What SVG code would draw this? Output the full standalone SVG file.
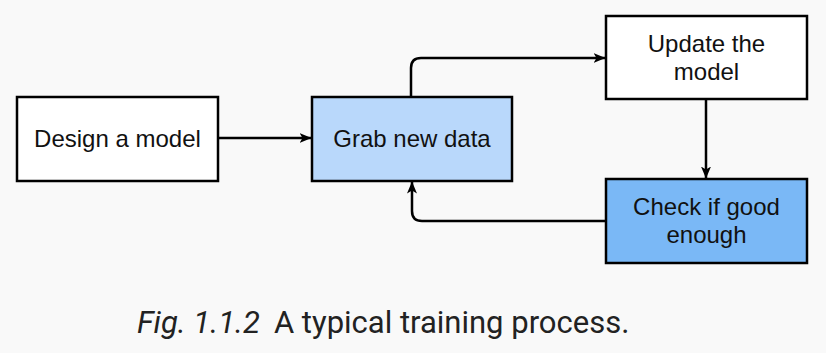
<svg xmlns="http://www.w3.org/2000/svg" width="826" height="353" viewBox="0 0 826 353">
  <style>
    .box { stroke: #000; stroke-width: 2.5; }
    .label { font-family: "Liberation Sans", Arial, sans-serif; font-size: 24px; fill: #111; text-anchor: middle; }
    .edge { fill: none; stroke: #000; stroke-width: 2.5; marker-end: url(#arrow); }
    .caption { font-family: Roboto, "Liberation Sans", sans-serif; font-size: 31px; fill: #222; }
  </style>
  <defs>
    <marker id="arrow" viewBox="0 0 12 10" refX="11.5" refY="5" markerWidth="12" markerHeight="10" markerUnits="userSpaceOnUse" orient="auto">
      <path d="M0,0 L12,5 L0,10 L3,5 Z" fill="#000"/>
    </marker>
  </defs>
  <rect width="826" height="353" fill="#f9f9f9"/>

  <g id="design-model">
    <rect class="box" x="17" y="97" width="201" height="84" fill="#ffffff"/>
    <text class="label" x="117.5" y="147">Design a model</text>
  </g>
  <g id="grab-data">
    <rect class="box" x="312" y="97" width="200" height="84" fill="#b9d8fb"/>
    <text class="label" x="412" y="147">Grab new data</text>
  </g>
  <g id="update-model">
    <rect class="box" x="606" y="16" width="201" height="83" fill="#ffffff"/>
    <text class="label" x="706.5" y="52">Update the</text>
    <text class="label" x="706.5" y="80">model</text>
  </g>
  <g id="check-good">
    <rect class="box" x="606" y="179" width="201" height="84" fill="#7ab8f6"/>
    <text class="label" x="706.5" y="215">Check if good</text>
    <text class="label" x="706.5" y="243">enough</text>
  </g>

  <g id="connectors">
    <path class="edge" d="M218,138 H311"/>
    <path class="edge" d="M411,97 V68 Q411,58 421,58 H605"/>
    <path class="edge" d="M706,99 V178"/>
    <path class="edge" d="M606,221 H422 Q412,221 412,211 V182"/>
  </g>

  <text class="caption" x="137" y="333"><tspan font-style="italic">Fig. 1.1.2</tspan><tspan dx="14">A typical training process.</tspan></text>
</svg>
